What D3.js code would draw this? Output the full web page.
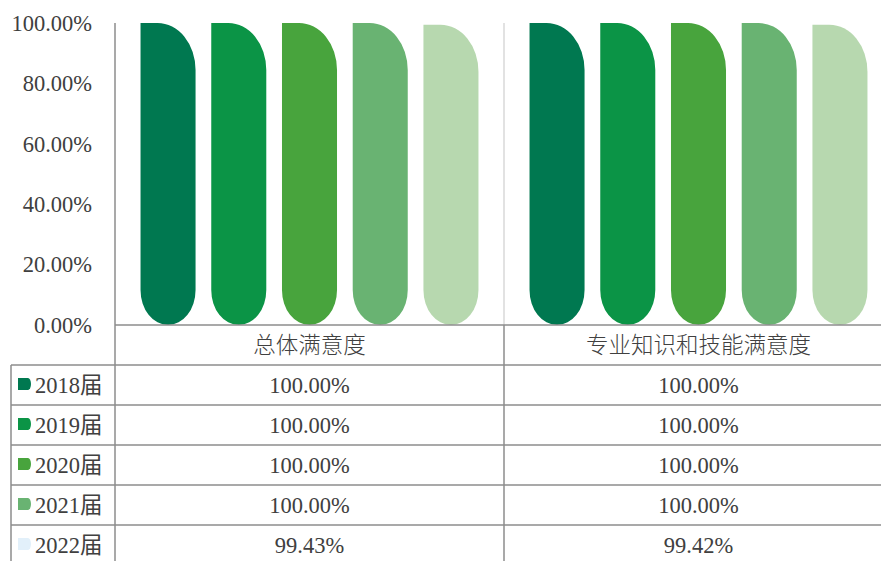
<!DOCTYPE html>
<html><head><meta charset="utf-8">
<script src="https://cdn.jsdelivr.net/npm/d3@7"></script>
<style>body{margin:0;background:#fff}svg{display:block}</style>
</head><body>
<svg id="c" width="881" height="561"></svg>
<script>
const categories = ["总体满意度", "专业知识和技能满意度"];
const seriesNames = ["2018届", "2019届", "2020届", "2021届", "2022届"];
const values = [
  [1.0, 1.0],
  [1.0, 1.0],
  [1.0, 1.0],
  [1.0, 1.0],
  [0.9943, 0.9942]
];
const yTicks = [0, 0.2, 0.4, 0.6, 0.8, 1.0];
const barColors = ["#007850", "#0b9446", "#48a43d", "#69b372", "#b7d8af"];
const legendColors = ["#007850", "#0b9446", "#48a43d", "#69b372", "#e2f0fa"];

(function () {
const svg = d3.select("#c");
const font = '"Liberation Serif", "Noto Sans CJK SC", serif';
const textColor = "#404040";
const left = 115, plotTop = 23, bottom = 325, rowH = 40, tableLeft = 11, W = 881;

const x0 = d3.scaleBand().domain(categories).range([left, left + 389 * 2]).padding(0);
const x1 = d3.scaleBand().domain(seriesNames).range([0, x0.bandwidth()])
  .paddingInner(0.222).paddingOuter(0.361);
const y = d3.scaleLinear().domain([0, 1]).range([bottom, plotTop]);

svg.append("line").attr("x1", x0(categories[1])).attr("x2", x0(categories[1]))
  .attr("y1", plotTop).attr("y2", bottom).attr("stroke", "#d9d9d9").attr("stroke-width", 1.5);

function barPath(xa, w, yt, yb) {
  const rx = Math.min(38, w), ry = 47, rb = w / 2, ryb = 35;
  return `M${xa},${yt} L${xa + w - rx},${yt} A${rx},${ry} 0 0 1 ${xa + w},${yt + ry}
    L${xa + w},${yb - ryb} A${rb},${ryb} 0 0 1 ${xa},${yb - ryb} Z`;
}
seriesNames.forEach((s, si) => {
  categories.forEach((c, ci) => {
    const xa = x0(c) + x1(s);
    svg.append("path").attr("d", barPath(xa, x1.bandwidth(), y(values[si][ci]), y(0)))
      .attr("fill", barColors[si]);
  });
});

const yAxis = d3.axisLeft(y).tickValues(yTicks).tickFormat(d => (d * 100).toFixed(2) + "%").tickSize(0).tickPadding(23);
const ya = svg.append("g").attr("transform", `translate(${left},0)`).call(yAxis);
ya.attr("font-family", null).attr("font-size", null);
ya.select(".domain").remove();
ya.selectAll("text").style("font-family", font).style("font-size", "22.5px").attr("fill", textColor);

const lineColor = "#8c8c8c";
svg.append("line").attr("x1", left).attr("x2", W).attr("y1", bottom).attr("y2", bottom)
  .attr("stroke", lineColor).attr("stroke-width", 1.5);
seriesNames.forEach((s, i) => {
  const yy = bottom + rowH * (i + 1);
  svg.append("line").attr("x1", tableLeft).attr("x2", W).attr("y1", yy).attr("y2", yy)
    .attr("stroke", lineColor).attr("stroke-width", 1.5);
});
svg.append("line").attr("x1", left).attr("x2", left).attr("y1", plotTop).attr("y2", 561)
  .attr("stroke", lineColor).attr("stroke-width", 1.5);
svg.append("line").attr("x1", tableLeft).attr("x2", tableLeft).attr("y1", bottom + rowH).attr("y2", 561)
  .attr("stroke", lineColor).attr("stroke-width", 1.5);
svg.append("line").attr("x1", x0(categories[1])).attr("x2", x0(categories[1]))
  .attr("y1", bottom).attr("y2", 561).attr("stroke", lineColor).attr("stroke-width", 1.5);

categories.forEach(c => {
  svg.append("text").attr("x", x0(c) + x0.bandwidth() / 2).attr("y", bottom + rowH / 2)
    .attr("dy", "0.35em").attr("text-anchor", "middle")
    .style("font-family", '"Noto Sans CJK SC", sans-serif').style("font-weight", 300)
    .style("font-size", "22.5px").attr("fill", textColor).text(c);
});

seriesNames.forEach((s, si) => {
  const cy = bottom + rowH * (si + 1) + rowH / 2;
  svg.append("path").attr("d", `M18,${cy - 7} h10 a3,6 0 0 1 3,6 a3,6 0 0 1 -3,6 h-10 Z`)
    .attr("fill", legendColors[si]);
  svg.append("text").attr("x", 35).attr("y", cy).attr("dy", "0.35em")
    .style("font-family", font).style("font-size", "22.5px").attr("fill", textColor).text(s);
  categories.forEach((c, ci) => {
    svg.append("text").attr("x", x0(c) + x0.bandwidth() / 2).attr("y", cy).attr("dy", "0.35em")
      .attr("text-anchor", "middle").style("font-family", font).style("font-size", "22.5px")
      .attr("fill", textColor).text((values[si][ci] * 100).toFixed(2) + "%");
  });
});
})();
</script>
</body></html>
